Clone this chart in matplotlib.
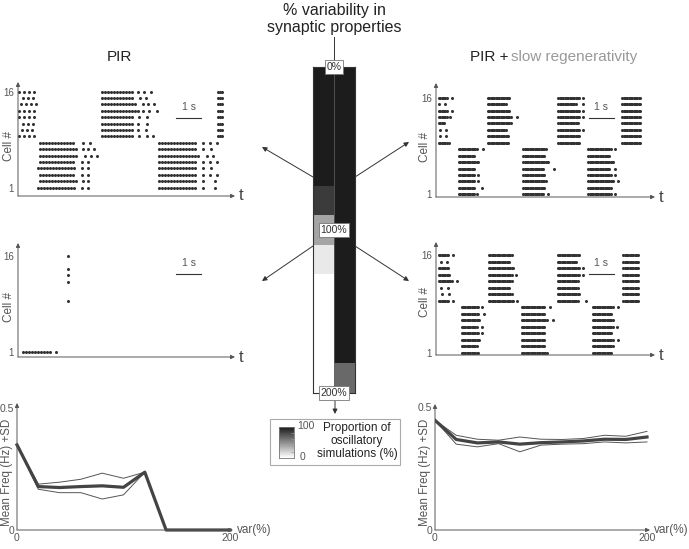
import numpy as np
import matplotlib
matplotlib.use('Agg')
import matplotlib.pyplot as plt
from matplotlib.colors import LinearSegmentedColormap

plt.rcParams['font.family'] = ['Liberation Sans', 'DejaVu Sans']

W, H = 689, 549

# ---------------- data ----------------
# proportion of oscillatory simulations (%) vs. synaptic variability (%)
var_levels = [0, 20, 40, 60, 80, 100, 120, 140, 160, 180, 200]
osc_pir = [100, 100, 100, 100, 86, 40, 10, 0, 0, 0, 0]
osc_pir_slow = [100, 100, 100, 100, 100, 100, 100, 100, 100, 100, 66]

# mean network frequency (Hz) and +/- SD
pir_mean = [0.349, 0.178, 0.174, 0.178, 0.181, 0.175, 0.237, 0, 0, 0, 0]
pir_hi = [0.349, 0.188, 0.196, 0.208, 0.233, 0.212, 0.237, 0, 0, 0, 0]
pir_lo = [0.349, 0.167, 0.153, 0.153, 0.127, 0.144, 0.237, 0, 0, 0, 0]
slow_mean = [0.446, 0.368, 0.354, 0.358, 0.349, 0.355, 0.358, 0.362, 0.369, 0.368, 0.378]
slow_hi = [0.446, 0.385, 0.369, 0.365, 0.378, 0.369, 0.368, 0.372, 0.385, 0.381, 0.401]
slow_lo = [0.446, 0.349, 0.338, 0.351, 0.318, 0.345, 0.349, 0.351, 0.358, 0.354, 0.358]

# raster bursts: (top cell, burst onset per row, end of dense firing per row,
#                 extra late spikes per row, inter-spike interval in s)
# rows go from the top cell downwards (8 cells per half-centre)
pir0_bursts = [
    (16, [0.05, 0.19, 0.11, 0.05, 0.05, 0.19, 0.15, 0.05],
         [0.65, 0.59, 0.71, 0.65, 0.65, 0.59, 0.55, 0.65],
         [[], [], [], [], [], [], [], []], 0.2),
    (8, [0.88, 0.88, 0.88, 0.88, 0.81, 0.88, 0.88, 0.81],
        [2.28, 2.32, 2.41, 2.28, 2.28, 2.28, 2.32, 2.28],
        [[2.59, 2.88], [2.61, 2.81, 3.03], [2.68, 2.91, 3.17], [2.55, 2.81],
         [2.55, 2.81], [2.55, 2.81], [2.59, 2.81], [2.55, 2.81]], 0.12),
    (16, [3.35] * 8,
         [4.61, 4.61, 4.75, 4.81, 4.61, 4.55, 4.55, 4.61],
         [[4.81, 5.04, 5.31], [4.88, 5.11], [4.99, 5.21, 5.45], [5.01, 5.25, 5.55],
          [4.85, 5.15], [4.81, 5.15], [4.81, 5.11], [4.85, 5.15, 5.41]], 0.12),
    (8, [5.65] * 8,
        [7.15, 7.15, 7.28, 7.15, 7.15, 7.15, 7.15, 7.15],
        [[7.41, 7.68, 7.95], [7.41, 7.71], [7.55, 7.81], [7.41, 7.68, 7.95],
         [7.41, 7.71], [7.41, 7.68, 7.95], [7.41, 7.88], [7.41, 7.88]], 0.12),
    (16, [8.01] * 8, [8.15] * 8, [[]] * 8, 0.07),
]

pir100_row1 = (0.19, 1.28, [1.51], 0.12)
pir100_cells = [16, 14, 13, 12, 9]
pir100_times = [1.99, 2.01, 1.99, 1.99, 2.01]

slow0_bursts = [
    (16, [0.13, 0.13, 0.13, 0.13, 0.13, 0.16, 0.16, 0.13],
         [0.43, 0.13, 0.43, 0.43, 0.36, 0.16, 0.16, 0.43],
         [[0.65], [0.36], [0.65], [0.56], [], [0.39], [0.39], [0.53]], 0.05),
    (8, [0.93] * 8,
        [1.63, 1.56, 1.69, 1.56, 1.56, 1.56, 1.56, 1.56],
        [[1.89], [], [], [], [1.69], [1.69], [1.83], [1.65]], 0.05),
    (16, [2.09] * 8,
         [2.96, 2.83, 2.96, 3.03, 3.03, 2.83, 2.89, 2.89],
         [[], [], [], [3.23], [], [], [], []], 0.05),
    (8, [3.49] * 8,
        [4.43, 4.36, 4.49, 4.29, 4.36, 4.43, 4.36, 4.29],
        [[], [], [], [4.72], [], [], [], [4.49]], 0.05),
    (16, [4.89] * 8,
         [5.76, 5.63, 5.76, 5.76, 5.69, 5.76, 5.76, 5.76],
         [[5.87], [5.87], [5.89], [5.89], [], [5.89], [], []], 0.05),
    (8, [6.09] * 8,
        [7.03, 6.96, 7.09, 6.96, 7.03, 7.09, 7.03, 7.03],
        [[7.16], [], [], [7.16], [7.16], [7.29], [], [7.16]], 0.05),
    (16, [7.45] * 8, [8.16] * 8, [[]] * 8, 0.05),
]

slow100_bursts = [
    (16, [0.13, 0.19, 0.13, 0.13, 0.13, 0.19, 0.23, 0.13],
         [0.49, 0.19, 0.49, 0.56, 0.63, 0.19, 0.23, 0.49],
         [[0.69], [0.43], [], [], [0.83], [0.49], [0.53], [0.69]], 0.05),
    (8, [1.03] * 8,
        [1.69, 1.69, 1.76, 1.63, 1.69, 1.76, 1.63, 1.69],
        [[1.83], [1.92], [], [1.83], [1.83], [], [], []], 0.05),
    (16, [2.13] * 8,
         [3.03, 2.96, 3.09, 3.03, 3.03, 2.96, 3.03, 3.09],
         [[], [], [], [3.20], [], [], [], [3.23]], 0.05),
    (8, [3.43] * 8,
        [4.36, 4.36, 4.43, 4.36, 4.36, 4.36, 4.36, 4.43],
        [[4.56], [], [4.69], [], [], [], [], []], 0.05),
    (16, [4.87] * 8,
         [5.76, 5.63, 5.76, 5.76, 5.69, 5.69, 5.76, 5.69],
         [[], [], [5.87], [5.87], [], [], [], [6.00]], 0.05),
    (8, [6.27] * 8,
        [7.09, 7.03, 7.09, 7.09, 7.03, 7.09, 7.09, 7.03],
        [[7.29], [], [], [7.23], [], [7.29], [], []], 0.05),
    (16, [7.49] * 8, [8.13] * 8, [[]] * 8, 0.05),
]

DOT = '#333333'
AX = '#555555'
TXT = '#555555'
MS = 2.2

fig = plt.figure(figsize=(W / 100, H / 100), dpi=100)


def px_axes(l, t, r, b, **kw):
    return fig.add_axes([l / W, 1 - b / H, (r - l) / W, (b - t) / H], **kw)


def arrow_axes(ax):
    for s in ax.spines.values():
        s.set_visible(False)
    kw = dict(arrowstyle='-|>', color=AX, lw=0.7, mutation_scale=6,
              shrinkA=0, shrinkB=0)
    ax.annotate('', xy=(1, 0), xytext=(0, 0), xycoords='axes fraction', arrowprops=kw)
    ax.annotate('', xy=(0, 1), xytext=(0, 0), xycoords='axes fraction', arrowprops=kw)


def raster_axes(l, t, r, b, y16, y1):
    ax = px_axes(l, t, r, b)
    per_cell = (y1 - y16) / 15.0
    ax.set_ylim(1 - (b - y1) / per_cell, 16 + (y16 - t) / per_cell)
    ax.set_xlim(0, (r - l) / 25.0)
    arrow_axes(ax)
    ax.set_xticks([])
    ax.set_yticks([1, 16])
    ax.tick_params(axis='y', length=0, pad=3, labelsize=7, labelcolor=TXT)
    ax.text(1.015, 0, 't', transform=ax.transAxes, ha='left', va='center',
            fontsize=12, color='#444')
    return ax


def draw_bursts(ax, bursts):
    for top, on, off, extra, isi in bursts:
        for i in range(8):
            t = list(np.arange(on[i], off[i] + 1e-6, isi)) + extra[i]
            ax.plot(t, [top - i] * len(t), 'o', ms=MS, color=DOT, mec='none',
                    clip_on=False)


def scale_bar(ax, t0, y):
    ax.plot([t0, t0 + 1], [y, y], color='#333', lw=0.8)
    ax.annotate('1 s', xy=(t0 + 0.5, y), xytext=(0, 4), textcoords='offset points',
                ha='center', va='bottom', fontsize=7.5, color=TXT)


# ---- rasters ----
ax_tl = raster_axes(18, 82, 235, 196, 91.7, 187.7)
draw_bursts(ax_tl, pir0_bursts)
scale_bar(ax_tl, 6.32, 11.9)

ax_bl = raster_axes(18, 243, 235, 357, 256, 352)
t = list(np.arange(pir100_row1[0], pir100_row1[1] + 1e-6, pir100_row1[3])) + pir100_row1[2]
ax_bl.plot(t, [1] * len(t), 'o', ms=MS, color=DOT, mec='none', clip_on=False)
ax_bl.plot(pir100_times, pir100_cells, 'o', ms=MS, color=DOT, mec='none')
scale_bar(ax_bl, 6.32, 13.2)

ax_tr = raster_axes(436, 83, 655, 197, 97.7, 194.3)
draw_bursts(ax_tr, slow0_bursts)
scale_bar(ax_tr, 6.12, 12.85)

ax_br = raster_axes(436, 242, 655, 355, 255, 352.7)
draw_bursts(ax_br, slow100_bursts)
scale_bar(ax_br, 6.12, 13.1)

for x, y in [(9, 146), (9, 307), (425, 147), (425, 302)]:
    fig.text(x / W, 1 - y / H, 'Cell #', rotation=90, ha='center', va='center',
             fontsize=8.5, color=TXT)


# ---- frequency plots ----
def freq_axes(l, t, r, b, x200, y05):
    ax = px_axes(l, t, r, b)
    ax.set_xlim(0, 200 * (r - l) / (x200 - l))
    ax.set_ylim(0, 0.5 * (b - t) / (b - y05))
    arrow_axes(ax)
    ax.set_xticks([0, 200])
    ax.set_yticks([0, 0.5])
    ax.set_yticklabels(['0', '0.5'])
    ax.tick_params(length=0, pad=2, labelsize=7.5, labelcolor=TXT)
    ax.text(1.02, 0, 'var(%)', transform=ax.transAxes, ha='left', va='center',
            fontsize=8.5, color=TXT)
    return ax


ax_fl = freq_axes(17, 403, 233, 530, 230, 408)
ax_fl.plot(var_levels, pir_hi, color='#555', lw=0.7)
ax_fl.plot(var_levels, pir_lo, color='#555', lw=0.7)
ax_fl.plot(var_levels, pir_mean, color='#444', lw=2.3, clip_on=False)

ax_fr = freq_axes(435, 404, 650, 530, 647, 407)
ax_fr.plot(var_levels, slow_hi, color='#555', lw=0.7)
ax_fr.plot(var_levels, slow_lo, color='#555', lw=0.7)
ax_fr.plot(var_levels, slow_mean, color='#444', lw=2.3)

for x in (7, 425):
    fig.text(x / W, 1 - 472 / H, 'Mean Freq (Hz) +SD', rotation=90, ha='center',
             va='center', fontsize=8.3, color=TXT)

# ---- overlay (titles, arrows) ----
ov = fig.add_axes([0, 0, 1, 1], zorder=0)
ov.set_xlim(0, W)
ov.set_ylim(H, 0)
ov.axis('off')

ov.text(334, 19, '% variability in\nsynaptic properties', ha='center', va='center',
        fontsize=11.5, color='#222', linespacing=1.15)
ov.text(119, 57, 'PIR', ha='center', va='center', fontsize=11, color='#222')
ov.text(470, 57, 'PIR +', ha='left', va='center', fontsize=11, color='#222')
ov.text(511, 57, 'slow regenerativity', ha='left', va='center', fontsize=11,
        color='#999')

ov.plot([334, 334], [37, 67], color='#333', lw=0.7)
akw = dict(arrowstyle='-|>', lw=0.7, color='#333', mutation_scale=7,
           shrinkA=0, shrinkB=0)
for start, end in [((313, 177), (262, 147)), ((355, 177), (409, 142)),
                   ((313, 246), (262, 281)), ((355, 246), (409, 281)),
                   ((335, 399), (335, 414))]:
    ov.annotate('', xy=end, xytext=start, xycoords='data', arrowprops=akw)
ov.plot([313, 319], [246, 246], color='#333', lw=0.7)

# legend box
ov.add_patch(plt.Rectangle((270, 419), 130, 46, fill=False, ec='#aaa', lw=0.8))
ov.text(297, 426, '100', ha='left', va='center', fontsize=7.5, color=TXT)
ov.text(300, 457, '0', ha='left', va='center', fontsize=7.5, color=TXT)
ov.text(357, 441, 'Proportion of\noscillatory\nsimulations (%)', ha='center',
        va='center', fontsize=8.5, color='#222', linespacing=1.15)

cmap = LinearSegmentedColormap.from_list('osc', ['#ffffff', '#1c1c1c'])

# ---- central variability bar ----
ax_bar = px_axes(313, 67, 355, 393, zorder=1)
Z = np.array([osc_pir, osc_pir_slow]).T
ax_bar.pcolormesh([0, 1, 2], np.arange(len(var_levels) + 1), Z, cmap=cmap,
                  vmin=0, vmax=100)
ax_bar.set_xlim(0, 2)
ax_bar.set_ylim(len(var_levels), 0)
ax_bar.axvline(1, color='#666', lw=0.5)
ax_bar.set_xticks([])
ax_bar.set_yticks([])
for s in ax_bar.spines.values():
    s.set_color('#333')
    s.set_linewidth(0.8)
box = dict(boxstyle='square,pad=0.15', fc='white', ec='#777', lw=0.6)
for yv, lab in [(0, '0%'), (5.5, '100%'), (11, '200%')]:
    ax_bar.text(1, yv, lab, ha='center', va='center', fontsize=7.5, color='#333',
                bbox=box, clip_on=False)

# legend colour scale
ax_cb = px_axes(279, 427, 294, 458, zorder=1)
ax_cb.imshow(np.linspace(100, 0, 50)[:, None], cmap=cmap, vmin=0, vmax=100,
             aspect='auto', extent=[0, 1, 0, 100])
ax_cb.set_xticks([])
ax_cb.yaxis.tick_right()
ax_cb.set_yticks([20, 40, 60, 80])
ax_cb.tick_params(axis='y', direction='in', length=2, width=0.5, color='#999',
                  labelright=False)
for s in ax_cb.spines.values():
    s.set_color('#777')
    s.set_linewidth(0.6)

fig.savefig('out.png', dpi=100)
